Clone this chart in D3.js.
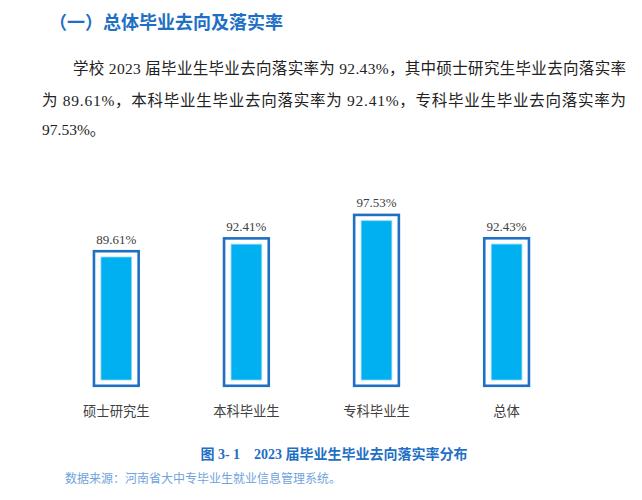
<!DOCTYPE html>
<html>
<head>
<meta charset="utf-8">
<script src="https://cdn.jsdelivr.net/npm/d3@7"></script>
<style>
  html, body { margin: 0; padding: 0; background: #fff; }
  svg { display: block; }
</style>
</head>
<body>
<div id="chart"></div>
<script>
// data
const categories = ["硕士研究生", "本科毕业生", "专科毕业生", "总体"];
const rates = [89.61, 92.41, 97.53, 92.43];
const rateLabels = ["89.61%", "92.41%", "97.53%", "92.43%"];

const titleText = "（一）总体毕业去向及落实率";
const paraLines = [
  "学校 2023 届毕业生毕业去向落实率为 92.43%，其中硕士研究生毕业去向落实率",
  "为 89.61%，本科毕业生毕业去向落实率为 92.41%，专科毕业生毕业去向落实率为",
  "97.53%。"
];
const captionText = "图 3- 1　2023 届毕业生毕业去向落实率分布";
const sourceText = "数据来源：河南省大中专毕业生就业信息管理系统。";

const width = 642, height = 500;
const serif = "'Liberation Serif', 'Noto Sans CJK SC', serif";
const sans = "'Noto Sans CJK SC', sans-serif";

const svg = d3.select("#chart").append("svg")
  .attr("width", width)
  .attr("height", height);

// heading
svg.append("text")
  .attr("x", 49).attr("y", 29)
  .attr("fill", "#1f6fc4")
  .style("font-family", sans)
  .style("font-size", "18px")
  .style("font-weight", "bold")
  .text(titleText);

// paragraph, justified lines
const lineX = [73, 42, 42];
const lineY = [74, 106, 135];
paraLines.forEach((t, i) => {
  const txt = svg.append("text")
    .attr("x", lineX[i]).attr("y", lineY[i])
    .attr("fill", "#222")
    .style("font-family", serif)
    .style("font-size", "15.5px")
    .text(t);
  if (i < paraLines.length - 1) {
    txt.attr("textLength", 626 - lineX[i]).attr("lengthAdjust", "spacing");
  }
});

// scales
const x = d3.scalePoint().domain(categories).range([116.3, 506.6]);
const y = d3.scaleLinear().domain([62.77, 100]).range([380, 209.4]);
const barW = 30.7, padX = 7, padY = 5.8;

const bars = svg.append("g");

// outer frame
bars.selectAll("rect.frame")
  .data(rates)
  .join("rect")
  .attr("class", "frame")
  .attr("x", (d, i) => x(categories[i]) - barW / 2 - padX)
  .attr("y", d => y(d) - padY)
  .attr("width", barW + padX * 2)
  .attr("height", d => y.range()[0] - y(d) + padY * 2)
  .attr("fill", "#fff")
  .attr("stroke", "#1f6fc4")
  .attr("stroke-width", 2.6);

// inner bar
bars.selectAll("rect.bar")
  .data(rates)
  .join("rect")
  .attr("class", "bar")
  .attr("x", (d, i) => x(categories[i]) - barW / 2)
  .attr("y", d => y(d))
  .attr("width", barW)
  .attr("height", d => y.range()[0] - y(d))
  .attr("fill", "#00b0f0")
  .attr("stroke", "#8fd8f6")
  .attr("stroke-width", 0.8);

// value labels
bars.selectAll("text.val")
  .data(rates)
  .join("text")
  .attr("class", "val")
  .attr("x", (d, i) => x(categories[i]))
  .attr("y", d => y(d) - padY - 7.5)
  .attr("text-anchor", "middle")
  .attr("fill", "#404040")
  .style("font-family", serif)
  .style("font-size", "13px")
  .text((d, i) => rateLabels[i]);

// category labels
bars.selectAll("text.cat")
  .data(categories)
  .join("text")
  .attr("class", "cat")
  .attr("x", d => x(d))
  .attr("y", 416)
  .attr("text-anchor", "middle")
  .attr("fill", "#404040")
  .style("font-family", sans)
  .style("font-size", "13.3px")
  .text(d => d);

// caption
svg.append("text")
  .attr("x", 334).attr("y", 459)
  .attr("text-anchor", "middle")
  .attr("fill", "#1f6fc4")
  .style("font-family", serif)
  .style("font-size", "14px")
  .style("font-weight", "bold")
  .text(captionText);

// source note
svg.append("text")
  .attr("x", 65).attr("y", 483)
  .attr("fill", "#6fa3dc")
  .style("font-family", sans)
  .style("font-size", "12px")
  .text(sourceText);
</script>
</body>
</html>
